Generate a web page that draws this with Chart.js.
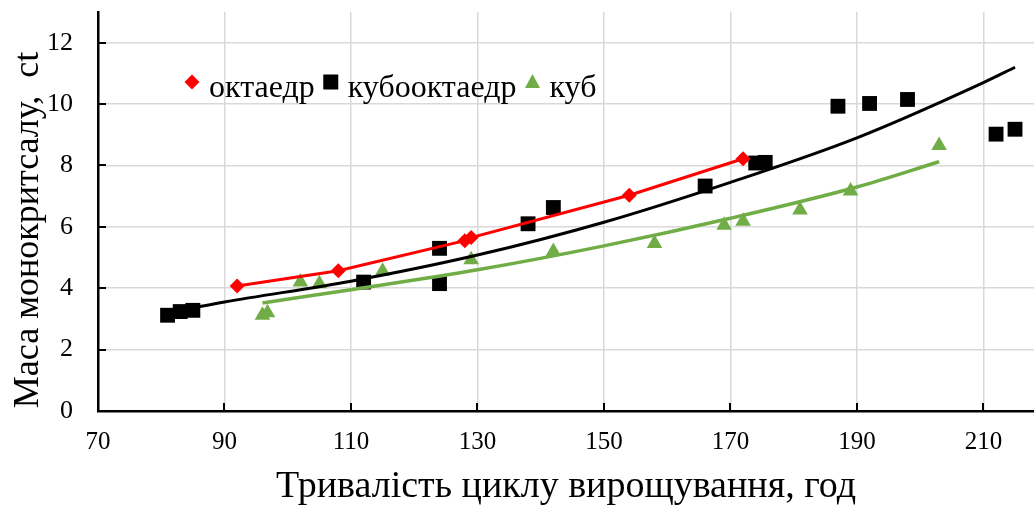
<!DOCTYPE html>
<html lang="uk">
<head>
<meta charset="utf-8">
<title>Маса монокритсалу</title>
<script src="https://cdn.jsdelivr.net/npm/chart.js@4.4.1/dist/chart.umd.min.js"></script>
<style>
    html, body {
        margin: 0;
        padding: 0;
        background: #ffffff;
    }
    #wrap {
        width: 1034px;
        height: 510px;
    }
</style>
</head>
<body>
<div id="wrap"><canvas id="chart"></canvas></div>
<script>
    // октаедр
    const octX = [92, 108, 128, 129, 154, 172];
    const octY = [4.07, 4.57, 5.55, 5.65, 7.03, 8.22];
    // кубооктаедр
    const cuboctX = [81, 83, 85, 112, 124, 124, 138, 142, 166, 174, 175.5, 187, 192, 198, 212, 215];
    const cuboctY = [3.12, 3.24, 3.28, 4.2, 5.3, 4.15, 6.1, 6.63, 7.33, 8.08, 8.1, 9.93, 10.02, 10.15, 9.02, 9.18];
    // куб
    const cubeX = [96, 96.8, 102, 105, 115, 129, 142, 158, 169, 172, 181, 189, 203];
    const cubeY = [3.12, 3.2, 4.2, 4.15, 4.55, 4.93, 5.2, 5.46, 6.05, 6.18, 6.55, 7.17, 8.65];
    // trend lines
    const cuboctTrendX = [81, 90, 110, 130, 150, 170, 190, 210, 215];
    const cuboctTrendY = [3.2, 3.55, 4.23, 5.08, 6.15, 7.45, 8.9, 10.7, 11.2];
    const cubeTrendX = [96, 110, 130, 150, 170, 190, 203];
    const cubeTrendY = [3.52, 3.95, 4.6, 5.38, 6.28, 7.3, 8.12];

    const xTicks = [70, 90, 110, 130, 150, 170, 190, 210];
    const yTicks = [0, 2, 4, 6, 8, 10, 12];
    const yTitle = 'Маса монокритсалу,  ct';

    const serif = "'Liberation Serif', 'Times New Roman', serif";
    const toPoints = (xs, ys) => xs.map((x, i) => ({ x: x, y: ys[i] }));

    // small inward tick marks + the y title (it sits a bit lower than the centre in the original)
    const axisExtras = {
        id: 'axisExtras',
        afterDraw(chart) {
            const ctx = chart.ctx;
            const xs = chart.scales.x, ys = chart.scales.y;
            const area = chart.chartArea;
            ctx.save();
            ctx.strokeStyle = '#000';
            ctx.lineWidth = 2;
            ctx.beginPath();
            xTicks.slice(1).forEach(v => {
                const px = Math.round(xs.getPixelForValue(v));
                ctx.moveTo(px, area.bottom);
                ctx.lineTo(px, area.bottom - 8);
            });
            yTicks.slice(1).forEach(v => {
                const py = Math.round(ys.getPixelForValue(v));
                ctx.moveTo(area.left, py);
                ctx.lineTo(area.left + 8, py);
            });
            ctx.stroke();

            ctx.translate(29, 230);
            ctx.rotate(-Math.PI / 2);
            ctx.font = '36px ' + serif;
            ctx.fillStyle = '#000';
            ctx.textAlign = 'center';
            ctx.textBaseline = 'middle';
            ctx.fillText(yTitle, 0, 0);
            ctx.restore();
        }
    };

    // legend drawn inside the plot
    const drawMarker = (ctx, style, cx, cy, color) => {
        ctx.fillStyle = color;
        ctx.beginPath();
        if (style === 'rectRot') {
            ctx.moveTo(cx - 7.5, cy);
            ctx.lineTo(cx, cy - 7.5);
            ctx.lineTo(cx + 7.5, cy);
            ctx.lineTo(cx, cy + 7.5);
        } else if (style === 'rect') {
            ctx.rect(cx - 7.5, cy - 7.5, 15, 15);
        } else {
            ctx.moveTo(cx, cy - 8);
            ctx.lineTo(cx + 7.5, cy + 6);
            ctx.lineTo(cx - 7.5, cy + 6);
        }
        ctx.closePath();
        ctx.fill();
    };

    const innerLegend = {
        id: 'innerLegend',
        afterDraw(chart) {
            const ctx = chart.ctx;
            ctx.save();
            ctx.font = '32px ' + serif;
            ctx.textBaseline = 'alphabetic';
            ctx.textAlign = 'left';
            let cx = 192;
            const cy = 82;
            chart.data.datasets.filter(d => d.inLegend).forEach(d => {
                drawMarker(ctx, d.pointStyle, cx, cy, d.backgroundColor);
                ctx.fillStyle = '#000';
                ctx.fillText(d.label, cx + 17, cy + 15);
                cx += 17 + ctx.measureText(d.label).width + 16;
            });
            ctx.restore();
        }
    };

    new Chart(document.getElementById('chart'), {
        type: 'scatter',
        plugins: [axisExtras, innerLegend],
        data: {
            datasets: [
                {
                    label: 'октаедр',
                    inLegend: true,
                    data: toPoints(octX, octY),
                    pointStyle: 'rectRot',
                    pointRadius: 7.5,
                    pointBorderWidth: 0,
                    backgroundColor: '#ff0000',
                    borderColor: '#ff0000',
                    borderWidth: 3,
                    showLine: true,
                    order: 1
                },
                {
                    label: 'кубооктаедр',
                    inLegend: true,
                    data: toPoints(cuboctX, cuboctY),
                    pointStyle: 'rect',
                    pointRadius: 10.5,
                    pointBorderWidth: 0,
                    backgroundColor: '#000000',
                    borderColor: '#000000',
                    order: 3
                },
                {
                    label: 'куб',
                    inLegend: true,
                    data: toPoints(cubeX, cubeY),
                    pointStyle: 'triangle',
                    pointRadius: 9,
                    pointBorderWidth: 0,
                    backgroundColor: '#70ad47',
                    borderColor: '#70ad47',
                    order: 4
                },
                {
                    label: 'тренд кубооктаедр',
                    data: toPoints(cuboctTrendX, cuboctTrendY),
                    showLine: true,
                    pointRadius: 0,
                    borderColor: '#000000',
                    borderWidth: 3,
                    cubicInterpolationMode: 'monotone',
                    order: 2
                },
                {
                    label: 'тренд куб',
                    data: toPoints(cubeTrendX, cubeTrendY),
                    showLine: true,
                    pointRadius: 0,
                    borderColor: '#70ad47',
                    borderWidth: 3.5,
                    cubicInterpolationMode: 'monotone',
                    order: 2
                }
            ]
        },
        options: {
            responsive: true,
            maintainAspectRatio: false,
            animation: false,
            layout: {
                autoPadding: false,
                padding: { top: 12, right: 0, bottom: 0, left: 0 }
            },
            plugins: {
                legend: { display: false },
                tooltip: { enabled: false }
            },
            scales: {
                x: {
                    type: 'linear',
                    min: 70,
                    max: 218,
                    afterBuildTicks: s => { s.ticks = xTicks.map(v => ({ value: v })); },
                    afterFit: s => {
                        s.height = 99;
                        s.paddingLeft = 0;
                        s.paddingRight = 0;
                    },
                    grid: { color: '#d9d9d9', lineWidth: 1.5, drawTicks: false },
                    border: { color: '#000', width: 2.5 },
                    ticks: {
                        color: '#000',
                        font: { family: serif, size: 25 },
                        padding: 16,
                        autoSkip: false,
                        maxRotation: 0
                    },
                    title: {
                        display: true,
                        text: 'Тривалість циклу вирощування, год',
                        color: '#000',
                        font: { family: serif, size: 38 },
                        padding: { top: 0, bottom: 0 }
                    }
                },
                y: {
                    min: 0,
                    max: 13,
                    afterBuildTicks: s => { s.ticks = yTicks.map(v => ({ value: v })); },
                    afterFit: s => {
                        s.width = 98;
                        s.paddingTop = 0;
                        s.paddingBottom = 0;
                    },
                    grid: { color: '#d9d9d9', lineWidth: 1.5, drawTicks: false },
                    border: { color: '#000', width: 2.5 },
                    ticks: {
                        color: '#000',
                        font: { family: serif, size: 26 },
                        padding: 25
                    }
                }
            }
        }
    });
</script>
</body>
</html>
